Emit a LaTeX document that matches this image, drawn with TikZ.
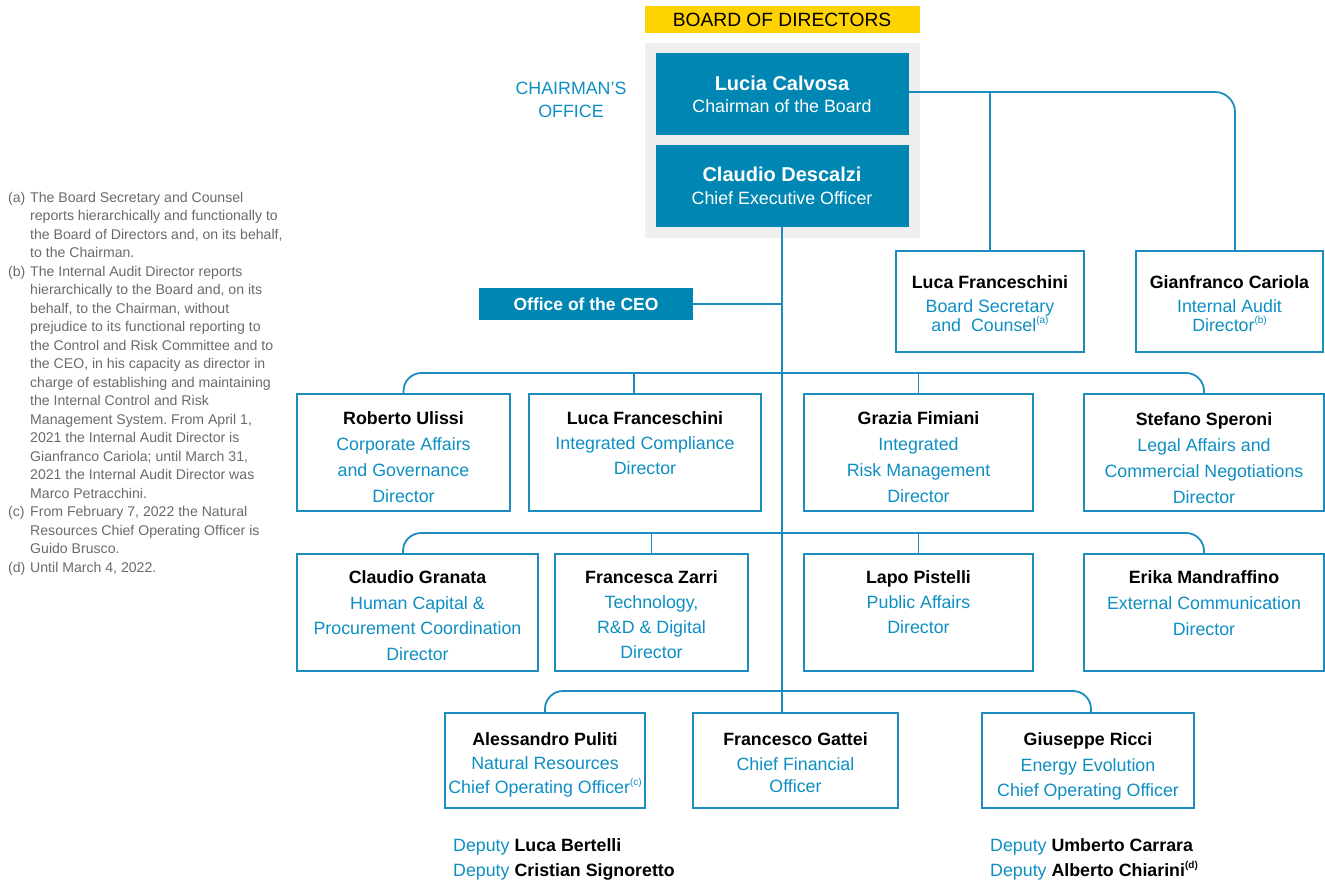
\documentclass[tikz,border=0pt]{standalone}
\usepackage{fontspec}
\setmainfont{Liberation Sans}
\usetikzlibrary{calc}
\definecolor{eniblue}{HTML}{0086B3}
\definecolor{txtblue}{HTML}{0E8FC3}
\definecolor{lineblue}{HTML}{1A8DBE}
\definecolor{bggray}{HTML}{EFEFEF}
\definecolor{enyellow}{HTML}{FFD300}
\definecolor{notegray}{HTML}{6A6A6A}
\newcommand{\nm}[1]{{\bfseries\color{black}#1}}
\newcommand{\rl}[1]{{\color{txtblue}#1}}
\newcommand{\fnm}[1]{\raisebox{0.45em}{\fontsize{10}{10}\selectfont #1}}
% width, height, first baseline, line spacing, content
\newcommand{\bxc}[5]{\parbox[c][#2][t]{#1}{\centering\fontsize{17.8}{#4}\selectfont\rule{0pt}{#3}#5}}
\newcommand{\lbl}[1]{\makebox[22pt][l]{#1}}
\newcommand{\ind}{\hspace*{22pt}}
\frenchspacing
\begin{document}
\begin{tikzpicture}[x=1pt,y=-1pt,
  conn/.style={draw=lineblue, line width=1.8pt},
  obox/.style={draw=lineblue, line width=1.8pt, inner sep=0pt, fill=white},
  solid blue/.style={fill=eniblue, text=white, inner sep=0pt, align=center}]
\useasboundingbox (0,0) rectangle (1325,881);

% header
\node[fill=enyellow, minimum width=275pt, minimum height=27pt, inner sep=0pt,
  font=\fontsize{19.2}{20}\selectfont] (bod) at (782,19.5) {BOARD OF DIRECTORS};
\node[fill=bggray, minimum width=275pt, minimum height=195pt, inner sep=0pt] (bg) at (782,140.5) {};
\node[solid blue, minimum width=253pt, minimum height=82pt, font=\fontsize{17.8}{22}\selectfont] (chair) at (782,94)
  {{\fontsize{20}{22}\selectfont\bfseries Lucia Calvosa}\\Chairman of the Board};
\node[solid blue, minimum width=253pt, minimum height=82pt, font=\fontsize{17.8}{23}\selectfont] (ceo) at (782,186)
  {{\fontsize{20}{23}\selectfont\bfseries Claudio Descalzi}\\Chief Executive Officer};
\node[text=txtblue, align=center, font=\fontsize{17.8}{23}\selectfont] (cho) at (571,99.5) {CHAIRMAN’S\\OFFICE};

\node[solid blue, minimum width=214pt, minimum height=32pt, font=\bfseries\fontsize{17.5}{20}\selectfont] (off) at (586,304) {Office of the CEO};

% top-right boxes
\node[obox] (sec) at (990,301.5) {\bxc{188pt}{101pt}{37.5pt}{19pt}{\nm{Luca Franceschini}\\[5pt] \rl{Board Secretary}\\ \rl{and~ Counsel\fnm{(a)}}}};
\node[obox] (aud) at (1229.5,301.5) {\bxc{187pt}{101pt}{37.5pt}{19pt}{\nm{Gianfranco Cariola}\\[5pt] \rl{Internal Audit}\\ \rl{Director\fnm{(b)}}}};

% row 1
\node[obox] (rob) at (403.5,452.5) {\bxc{213pt}{117pt}{30.5pt}{26pt}{\nm{Roberto Ulissi}\\ \rl{Corporate Affairs}\\ \rl{and Governance}\\ \rl{Director}}};
\node[obox] (luc) at (645,452.5) {\bxc{232pt}{117pt}{30.5pt}{25pt}{\nm{Luca Franceschini}\\ \rl{Integrated Compliance}\\ \rl{Director}}};
\node[obox] (gra) at (918.5,452.5) {\bxc{229pt}{117pt}{30.5pt}{26pt}{\nm{Grazia Fimiani}\\ \rl{Integrated}\\ \rl{Risk Management}\\ \rl{Director}}};
\node[obox] (ste) at (1204,452.5) {\bxc{240pt}{117pt}{31pt}{26pt}{\nm{Stefano Speroni}\\ \rl{Legal Affairs and}\\ \rl{Commercial Negotiations}\\ \rl{Director}}};

% row 2
\node[obox] (cla) at (417.5,612.5) {\bxc{241pt}{117pt}{29.5pt}{25.5pt}{\nm{Claudio Granata}\\ \rl{Human Capital \&}\\ \rl{Procurement Coordination}\\ \rl{Director}}};
\node[obox] (fra) at (651.5,612.5) {\bxc{193pt}{117pt}{29.5pt}{25pt}{\nm{Francesca Zarri}\\ \rl{Technology,}\\ \rl{R\&D \& Digital}\\ \rl{Director}}};
\node[obox] (lap) at (918.5,612.5) {\bxc{229pt}{117pt}{29.5pt}{25pt}{\nm{Lapo Pistelli}\\ \rl{Public Affairs}\\ \rl{Director}}};
\node[obox] (eri) at (1204,612.5) {\bxc{240pt}{117pt}{29.5pt}{26pt}{\nm{Erika Mandraffino}\\ \rl{External Communication}\\ \rl{Director}}};

% row 3
\node[obox] (ale) at (545,760.5) {\bxc{200pt}{95pt}{32.5pt}{24pt}{\nm{Alessandro Puliti}\\ \rl{Natural Resources}\\ \rl{Chief Operating Officer\fnm{(c)}}}};
\node[obox] (gat) at (795.5,760.5) {\bxc{205pt}{95pt}{32.5pt}{22pt}{\nm{Francesco Gattei}\\[3pt] \rl{Chief Financial}\\ \rl{Officer}}};
\node[obox] (ric) at (1088,760.5) {\bxc{212pt}{95pt}{32.5pt}{24.5pt}{\nm{Giuseppe Ricci}\\[1.5pt] \rl{Energy Evolution}\\ \rl{Chief Operating Officer}}};

% deputies
\node[anchor=base west, inner sep=0pt, font=\fontsize{17.8}{20}\selectfont] (depa) at (453,851.5) {\rl{Deputy} \nm{Luca Bertelli}};
\node[anchor=base west, inner sep=0pt, font=\fontsize{17.8}{20}\selectfont] (depb) at (453,876.5) {\rl{Deputy} \nm{Cristian Signoretto}};
\node[anchor=base west, inner sep=0pt, font=\fontsize{17.8}{20}\selectfont] (depc) at (990,851.5) {\rl{Deputy} \nm{Umberto Carrara}};
\node[anchor=base west, inner sep=0pt, font=\fontsize{17.8}{20}\selectfont] (depd) at (990,876.5) {\rl{Deputy} \nm{Alberto Chiarini\fnm{\bfseries(d)}}};

% connectors
\coordinate (b1) at (782,373);
\coordinate (b2) at (782,533);
\coordinate (b3) at (782,691);
\coordinate (cb) at (782,92);
\draw[conn, rounded corners=20pt] (chair.east |- cb) -| ([xshift=5.5pt]aud.north);
\draw[conn] (sec.north) -- (sec.north |- cb);
\draw[conn] (ceo.south) -- (ceo.south |- gat.north);
\draw[conn] (off.east) -- (off.east -| ceo.south);
\draw[conn, rounded corners=18pt] (rob.north) |- (b1) -| (ste.north);
\draw[conn] ([xshift=-11pt]luc.north) -- ([xshift=-11pt]luc.north |- b1);
\draw[conn] (gra.north) -- (gra.north |- b1);
\draw[conn, rounded corners=18pt] ([xshift=-14.5pt]cla.north) |- (b2) -| (eri.north);
\draw[conn] (fra.north) -- (fra.north |- b2);
\draw[conn] (lap.north) -- (lap.north |- b2);
\draw[conn, rounded corners=18pt] (ale.north) |- (b3) -| ([xshift=3pt]ric.north);

% footnotes
\node[anchor=north west, inner sep=0pt, align=left, text=notegray,
  font=\fontsize{14.1}{18.5}\selectfont] (notes) at (8,188) {%
\rule{0pt}{14pt}\lbl{(a)}The Board Secretary and Counsel\\
\ind reports hierarchically and functionally to\\
\ind the Board of Directors and, on its behalf,\\
\ind to the Chairman.\\
\lbl{(b)}The Internal Audit Director reports\\
\ind hierarchically to the Board and, on its\\
\ind behalf, to the Chairman, without\\
\ind prejudice to its functional reporting to\\
\ind the Control and Risk Committee and to\\
\ind the CEO, in his capacity as director in\\
\ind charge of establishing and maintaining\\
\ind the Internal Control and Risk\\
\ind Management System. From April 1,\\
\ind 2021 the Internal Audit Director is\\
\ind Gianfranco Cariola; until March 31,\\
\ind 2021 the Internal Audit Director was\\
\ind Marco Petracchini.\\
\lbl{(c)}From February 7, 2022 the Natural\\
\ind Resources Chief Operating Officer is\\
\ind Guido Brusco.\\
\lbl{(d)}Until March 4, 2022.};
\end{tikzpicture}
\end{document}
